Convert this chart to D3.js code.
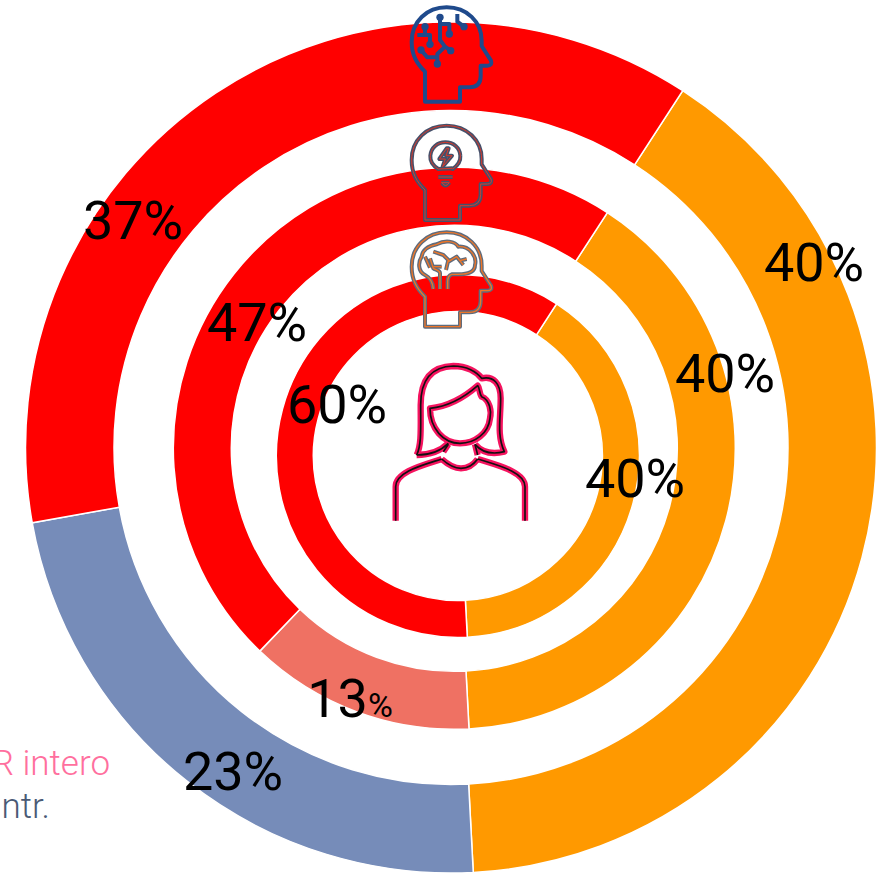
<!DOCTYPE html>
<html>
<head>
<meta charset="utf-8">
<script src="https://cdn.jsdelivr.net/npm/d3@7"></script>
<style>
  html, body { margin: 0; padding: 0; background: #fff; overflow: hidden; }
  text { font-family: Roboto, sans-serif; }
</style>
</head>
<body>
<svg id="chart" width="892" height="873"></svg>
<script>
// values, in percent, clockwise from the top right edge of each ring
const outerValues = [40, 23, 37];
const middleValues = [40, 13, 47];
const innerValues = [40, 60];
const outerColors = ["#ff9900", "#768cb9", "#ff0000"];
const middleColors = ["#ff9900", "#ef7163", "#ff0000"];
const innerColors = ["#ff9900", "#ff0000"];

const svg = d3.select("#chart");
const startAngle = (33 * Math.PI) / 180;

const rings = [
  { values: outerValues, colors: outerColors, cx: 451, cy: 447.5, r0: 337, r1: 425.5,
    labels: [[814, 262], [233, 771], [133, 220]] },
  { values: middleValues, colors: middleColors, cx: 454.3, cy: 448.3, r0: 223, r1: 281,
    labels: [[725, 373], [350, 698], [257, 322]] },
  { values: innerValues, colors: innerColors, cx: 457.8, cy: 456, r0: 144.5, r1: 181.5,
    labels: [[635, 478], [337, 404]] },
];

const pie = d3.pie().sort(null).startAngle(startAngle).endAngle(startAngle + 2 * Math.PI);

rings.forEach((ring) => {
  const arc = d3.arc().innerRadius(ring.r0).outerRadius(ring.r1);
  svg
    .append("g")
    .attr("transform", `translate(${ring.cx},${ring.cy})`)
    .selectAll("path")
    .data(pie(ring.values))
    .join("path")
    .attr("d", arc)
    .attr("fill", (d, i) => ring.colors[i])
    .attr("stroke", "#fff")
    .attr("stroke-width", 1.5);
});

// cut off legend at the left edge
svg.append("text").attr("x", 110).attr("y", 775).attr("text-anchor", "end")
  .attr("font-size", 35).attr("font-weight", 300).attr("fill", "#ff6f9e").text("R intero");
svg.append("text").attr("x", 50).attr("y", 818).attr("text-anchor", "end")
  .attr("font-size", 35).attr("font-weight", 300).attr("fill", "#4a5a75").text("ntr.");

// icons, drawn in a 3x space
const headPath = "M135 305V215C110 190 95 165 95 125C95 65 140 22 200 22C260 22 305 65 305 122L305 138L333 182Q338 197 322 197L302 197V228Q302 262 268 262H240V305Z";

function icon(x, y, paths, layers) {
  const g = svg.append("g").attr("transform", `translate(${x},${y}) scale(${1 / 3})`).attr("fill", "none")
    .attr("stroke-linejoin", "round");
  layers.forEach(([color, width]) => {
    paths.forEach((p) => g.append("path").attr("d", p).attr("stroke", color).attr("stroke-width", width));
  });
  return g;
}

// head with circuits
const circuit = icon(380, 0, [
  headPath,
  "M180 52V120L195 140L172 162V192M195 140L212 152M123 150L142 172H172",
  "M135 80V105M112 105H150V133",
  "M208 102V72H180",
  "M232 42V65L252 80",
], [["#1f4a8c", 12]]);
[[180, 52], [135, 80], [208, 102], [150, 133], [123, 150], [212, 152], [172, 192], [252, 80]].forEach(([x, y]) => {
  circuit.append("circle").attr("cx", x).attr("cy", y).attr("r", 11).attr("fill", "#1f4a8c");
});

// head with bulb
icon(380, 115 + 10 / 3, [
  headPath,
  "M175 152C155 140 150 125 151 112C153 88 172 72 196 72C220 72 240 88 241 112C242 125 236 140 218 152L216 150Z",
  "M175 176H218M184 193H208M186 193Q196 210 208 193",
  "M200 90L178 122H196L188 145L216 112H198L206 90Z",
], [["#46506a", 12], ["#d93a2b", 3]]);

// head with brain
icon(380, 115 + 330 / 3, [
  headPath,
  "M160 192C158 168 150 158 135 150C112 138 115 110 125 95C128 72 150 62 170 58C195 44 225 48 235 65C268 62 292 95 285 120C285 140 265 148 235 148L215 148Q203 152 203 170V192",
  "M180 192V145C180 135 165 135 160 130L150 100M150 128L135 95",
  "M198 135L205 105L190 90L160 80M205 110L230 95L250 120M240 107L260 102",
  "M160 125L185 125",
], [["#5f6b7c", 12], ["#ee7628", 4]]);

// woman
icon(380, 355, [
  "M110 300C125 270 122 220 122 150C122 80 150 35 220 33C260 33 290 50 305 70C340 62 362 85 362 130C362 190 350 240 373 290C345 297 310 297 285 268",
  "M110 300C140 300 175 295 205 265",
  "M150 160C200 155 250 130 293 92C300 100 298 118 305 125C330 135 335 170 330 190C325 235 285 265 240 265C190 265 150 220 150 160Z",
  "M185 312C205 330 225 340 243 340C262 340 280 330 293 312",
  "M47 497V395C47 350 130 330 185 312M293 312C350 330 435 350 435 395V497",
  "M205 268L190 290M285 268L293 300",
], [["#f5135f", 19], ["#111", 5]]);

// percent labels sit above rings and icons
rings.forEach((ring) => {
  ring.values.forEach((v, i) => {
    const [x, y] = ring.labels[i];
    const label = svg.append("text").attr("x", x).attr("y", y + 19)
      .attr("text-anchor", "middle").attr("font-size", 54).attr("font-weight", 400).attr("fill", "#000");
    if (v === 13) {
      label.text(v).append("tspan").attr("font-size", 34).text("%");
    } else {
      label.text(v + "%");
    }
  });
});
</script>
</body>
</html>
